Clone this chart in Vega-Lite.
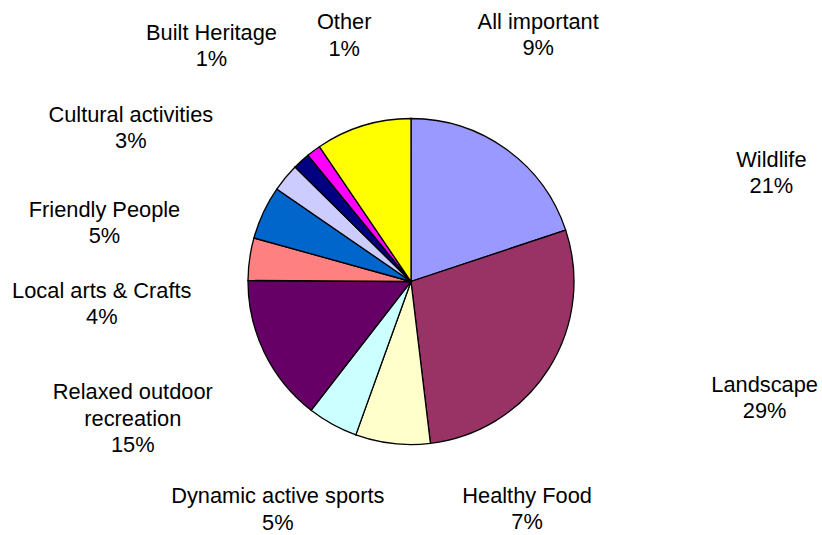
{
  "$schema": "https://vega.github.io/schema/vega-lite/v6.json",
  "width": 822,
  "height": 507,
  "autosize": {"type": "none"},
  "padding": {"top": 28, "left": 0, "right": 0, "bottom": 0},
  "background": "white",
  "config": {"view": {"stroke": null}, "text": {"font": "Liberation Sans"}},
  "data": {
    "values": [
      {"idx": 1, "category": "Wildlife", "value": 19.9, "label": "Wildlife\n21%"},
      {"idx": 2, "category": "Landscape", "value": 28.2, "label": "Landscape\n29%"},
      {"idx": 3, "category": "Healthy Food", "value": 7.4, "label": "Healthy Food\n7%"},
      {"idx": 4, "category": "Dynamic active sports", "value": 5.0, "label": "Dynamic active sports\n5%"},
      {"idx": 5, "category": "Relaxed outdoor recreation", "value": 14.6, "label": "Relaxed outdoor\nrecreation\n15%"},
      {"idx": 6, "category": "Local arts & Crafts", "value": 4.2, "label": "Local arts & Crafts\n4%"},
      {"idx": 7, "category": "Friendly People", "value": 5.3, "label": "Friendly People\n5%"},
      {"idx": 8, "category": "Cultural activities", "value": 2.8, "label": "Cultural activities\n3%"},
      {"idx": 9, "category": "Built Heritage", "value": 1.7, "label": "Built Heritage\n1%"},
      {"idx": 10, "category": "Other", "value": 1.4, "label": "Other\n1%"},
      {"idx": 11, "category": "All important", "value": 9.5, "label": "All important\n9%"}
    ]
  },
  "encoding": {
    "theta": {"field": "value", "type": "quantitative", "stack": true},
    "order": {"field": "idx", "type": "quantitative"},
    "detail": {"field": "category", "type": "nominal"}
  },
  "layer": [
    {
      "mark": {"type": "arc", "outerRadius": 163, "stroke": "#000000", "strokeWidth": 1.3},
      "encoding": {
        "color": {
          "field": "category",
          "type": "nominal",
          "legend": null,
          "scale": {
            "domain": ["Wildlife", "Landscape", "Healthy Food", "Dynamic active sports", "Relaxed outdoor recreation", "Local arts & Crafts", "Friendly People", "Cultural activities", "Built Heritage", "Other", "All important"],
            "range": ["#9999FF", "#993366", "#FFFFCC", "#CCFFFF", "#660066", "#FF8080", "#0066CC", "#CCCCFF", "#000080", "#FF00FF", "#FFFF00"]
          }
        }
      }
    },
    {
      "mark": {"type": "text", "radius": 163, "dx": 265, "dy": 17.4, "align": "center", "baseline": "alphabetic", "fontSize": 21.8, "lineHeight": 26.2, "lineBreak": "\n", "color": "#000000"},
      "encoding": {"text": {"condition": {"test": "datum.category === 'Wildlife'", "field": "label"}, "value": ""}}
    },
    {
      "mark": {"type": "text", "radius": 163, "dx": 216, "dy": 22.9, "align": "center", "baseline": "alphabetic", "fontSize": 21.8, "lineHeight": 26.2, "lineBreak": "\n", "color": "#000000"},
      "encoding": {"text": {"condition": {"test": "datum.category === 'Landscape'", "field": "label"}, "value": ""}}
    },
    {
      "mark": {"type": "text", "radius": 163, "dx": 134.5, "dy": 59.8, "align": "center", "baseline": "alphabetic", "fontSize": 21.8, "lineHeight": 26.2, "lineBreak": "\n", "color": "#000000"},
      "encoding": {"text": {"condition": {"test": "datum.category === 'Healthy Food'", "field": "label"}, "value": ""}}
    },
    {
      "mark": {"type": "text", "radius": 163, "dx": -54.7, "dy": 79, "align": "center", "baseline": "alphabetic", "fontSize": 21.8, "lineHeight": 26.2, "lineBreak": "\n", "color": "#000000"},
      "encoding": {"text": {"condition": {"test": "datum.category === 'Dynamic active sports'", "field": "label"}, "value": ""}}
    },
    {
      "mark": {"type": "text", "radius": 163, "dx": -131.6, "dy": 46.6, "align": "center", "baseline": "alphabetic", "fontSize": 21.8, "lineHeight": 26.2, "lineBreak": "\n", "color": "#000000"},
      "encoding": {"text": {"condition": {"test": "datum.category === 'Relaxed outdoor recreation'", "field": "label"}, "value": ""}}
    },
    {
      "mark": {"type": "text", "radius": 163, "dx": -147.8, "dy": 39.2, "align": "center", "baseline": "alphabetic", "fontSize": 21.8, "lineHeight": 26.2, "lineBreak": "\n", "color": "#000000"},
      "encoding": {"text": {"condition": {"test": "datum.category === 'Local arts & Crafts'", "field": "label"}, "value": ""}}
    },
    {
      "mark": {"type": "text", "radius": 163, "dx": -158.8, "dy": 4.1, "align": "center", "baseline": "alphabetic", "fontSize": 21.8, "lineHeight": 26.2, "lineBreak": "\n", "color": "#000000"},
      "encoding": {"text": {"condition": {"test": "datum.category === 'Friendly People'", "field": "label"}, "value": ""}}
    },
    {
      "mark": {"type": "text", "radius": 163, "dx": -154.6, "dy": -55.9, "align": "center", "baseline": "alphabetic", "fontSize": 21.8, "lineHeight": 26.2, "lineBreak": "\n", "color": "#000000"},
      "encoding": {"text": {"condition": {"test": "datum.category === 'Cultural activities'", "field": "label"}, "value": ""}}
    },
    {
      "mark": {"type": "text", "radius": 163, "dx": -89.8, "dy": -120.9, "align": "center", "baseline": "alphabetic", "fontSize": 21.8, "lineHeight": 26.2, "lineBreak": "\n", "color": "#000000"},
      "encoding": {"text": {"condition": {"test": "datum.category === 'Built Heritage'", "field": "label"}, "value": ""}}
    },
    {
      "mark": {"type": "text", "radius": 163, "dx": 30.6, "dy": -121.5, "align": "center", "baseline": "alphabetic", "fontSize": 21.8, "lineHeight": 26.2, "lineBreak": "\n", "color": "#000000"},
      "encoding": {"text": {"condition": {"test": "datum.category === 'Other'", "field": "label"}, "value": ""}}
    },
    {
      "mark": {"type": "text", "radius": 163, "dx": 175.1, "dy": -96.4, "align": "center", "baseline": "alphabetic", "fontSize": 21.8, "lineHeight": 26.2, "lineBreak": "\n", "color": "#000000"},
      "encoding": {"text": {"condition": {"test": "datum.category === 'All important'", "field": "label"}, "value": ""}}
    }
  ]
}
